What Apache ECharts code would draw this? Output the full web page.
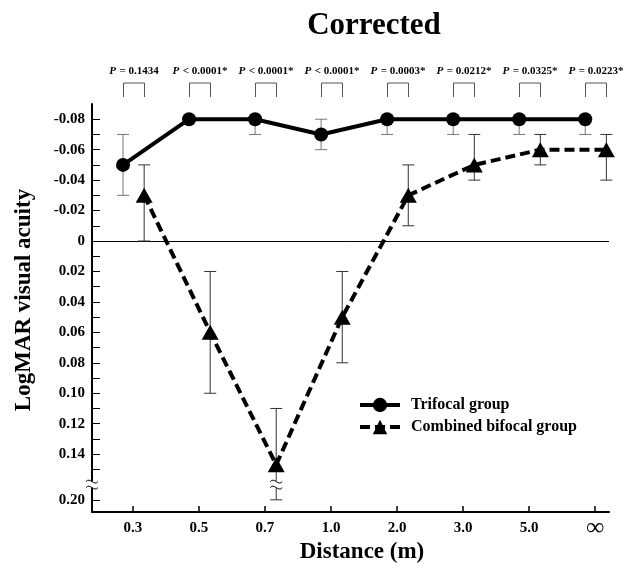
<!DOCTYPE html>
<html>
<head>
<meta charset="utf-8">
<script src="https://cdn.jsdelivr.net/npm/echarts@6/dist/echarts.min.js"></script>
<style>html,body{margin:0;padding:0;background:#fff}#c{width:623px;height:569px}</style>
</head>
<body>
<div id="c"></div>
<script>
const categories = ['0.3', '0.5', '0.7', '1.0', '2.0', '3.0', '5.0', '\u221e'];
const trifocal = [-0.05, -0.08, -0.08, -0.07, -0.08, -0.08, -0.08, -0.08];
const trifocalErrTop = [-0.07, -0.08, -0.08, -0.08, -0.08, -0.08, -0.08, -0.08];
const trifocalErrBottom = [-0.03, -0.08, -0.07, -0.06, -0.07, -0.07, -0.07, -0.07];
const combined = [-0.03, 0.06, 0.147, 0.05, -0.03, -0.05, -0.06, -0.06];
const combinedErrTop = [-0.05, 0.02, 0.11, 0.02, -0.05, -0.07, -0.07, -0.07];
const combinedErrBottom = [0.00, 0.10, 0.20, 0.08, -0.01, -0.04, -0.05, -0.04];
const pValues = ['= 0.1434', '< 0.0001*', '< 0.0001*', '< 0.0001*', '= 0.0003*', '= 0.0212*', '= 0.0325*', '= 0.0223*'];
const yTickLabels = ['-0.08', '-0.06', '-0.04', '-0.02', '0', '0.02', '0.04', '0.06', '0.08', '0.10', '0.12', '0.14', '0.20'];

const FONT = '"Liberation Serif", "Times New Roman", serif';
// broken axis: values above the break are shifted up by 0.03
const BREAK_AT = 0.16, BREAK_SHIFT = 0.03;
const toAxis = v => (v > BREAK_AT ? v - BREAK_SHIFT : v);
const OFF_T = -0.15, OFF_C = 0.17;

const yLabelVals = yTickLabels.map(s => toAxis(parseFloat(s)));
const yTickVals = [];
for (let k = -8; k <= 15; k++) yTickVals.push(k / 100);
yTickVals.push(toAxis(0.20));

const triData = trifocal.map((v, i) => [i + OFF_T, toAxis(v)]);
const comData = combined.map((v, i) => [i + OFF_C, toAxis(v)]);
const triErr = trifocal.map((v, i) => [i + OFF_T, toAxis(trifocalErrTop[i]), toAxis(trifocalErrBottom[i])]);
const comErr = combined.map((v, i) => [i + OFF_C, toAxis(combinedErrTop[i]), toAxis(combinedErrBottom[i]), combinedErrBottom[i] > BREAK_AT ? 1 : 0]);

function tilde(x, y, w) {
  return {
    type: 'bezierCurve',
    shape: { x1: x - w / 2, y1: y, x2: x + w / 2, y2: y, cpx1: x - w / 6, cpy1: y - 5, cpx2: x + w / 6, cpy2: y + 5 },
    style: { stroke: '#000', lineWidth: 1, fill: null }
  };
}
function breakMark(cx, cy) {
  return [
    { type: 'rect', shape: { x: cx - 7, y: cy - 3, width: 14, height: 6 }, style: { fill: '#fff' } },
    tilde(cx, cy - 3, 12),
    tilde(cx, cy + 3, 12)
  ];
}

function errRender(color) {
  return function (params, api) {
    const x = api.value(0), a = api.value(1), b = api.value(2);
    if (Math.abs(a - b) < 1e-9) return null;
    const p1 = api.coord([x, a]), p2 = api.coord([x, b]);
    const hw = 6;
    const st = { stroke: color, lineWidth: 1 };
    const children = [
      { type: 'line', shape: { x1: p1[0], y1: p1[1], x2: p2[0], y2: p2[1] }, style: st },
      { type: 'line', shape: { x1: p1[0] - hw, y1: p1[1], x2: p1[0] + hw, y2: p1[1] }, style: st },
      { type: 'line', shape: { x1: p2[0] - hw, y1: p2[1], x2: p2[0] + hw, y2: p2[1] }, style: st }
    ];
    if (api.value(3) === 1) {
      const pb = api.coord([x, BREAK_AT]);
      breakMark(pb[0], pb[1]).forEach(c => children.push(c));
    }
    return { type: 'group', children };
  };
}

const chart = echarts.init(document.getElementById('c'), null, { renderer: 'canvas' });
chart.setOption({
  backgroundColor: '#fff',
  animation: false,
  grid: { left: 92, top: 104, right: 14, bottom: 57, containLabel: false, outerBoundsMode: 'none' },
  xAxis: {
    type: 'value', min: -0.62, max: 7.21,
    axisLine: { show: true, onZero: false, lineStyle: { color: '#000', width: 2 } },
    axisTick: { show: true, inside: true, length: 6, customValues: categories.map((c, i) => i), lineStyle: { color: '#000', width: 1.5 } },
    axisLabel: {
      customValues: categories.map((c, i) => i), margin: 9,
      formatter: v => {
        const s = categories[Math.round(v)];
        return s === '\u221e' ? '{inf|' + s + '}' : s;
      },
      fontFamily: FONT, fontWeight: 'bold', fontSize: 15, color: '#000',
      rich: { inf: { fontFamily: FONT, fontSize: 25, lineHeight: 15, color: '#000' } }
    },
    splitLine: { show: false }
  },
  yAxis: {
    type: 'value', inverse: true, min: -0.09, max: 0.178,
    axisLine: { show: true, onZero: false, lineStyle: { color: '#000', width: 2 } },
    axisTick: { show: true, inside: true, length: 8, customValues: yTickVals, lineStyle: { color: '#000', width: 1 } },
    axisLabel: {
      customValues: yLabelVals, margin: 7,
      formatter: v => {
        for (let k = 0; k < yLabelVals.length; k++) if (Math.abs(yLabelVals[k] - v) < 1e-6) return yTickLabels[k];
        return '';
      },
      fontFamily: FONT, fontWeight: 'bold', fontSize: 15, color: '#000'
    },
    splitLine: { show: false }
  },
  legend: {
    orient: 'vertical', left: 353, top: 392, itemWidth: 40, itemHeight: 18, itemGap: 6,
    lineStyle: { width: 4 },
    textStyle: { fontFamily: FONT, fontWeight: 'bold', fontSize: 16, color: '#000', padding: [0, 0, 0, 6] },
    data: ['Trifocal group', 'Combined bifocal group']
  },
  graphic: [
    { type: 'text', x: 374, y: 26, style: { text: 'Corrected', font: 'bold 31px ' + FONT, fill: '#000', align: 'center', verticalAlign: 'middle' } },
    { type: 'text', x: 24, y: 300, rotation: Math.PI / 2, style: { text: 'LogMAR visual acuity', font: 'bold 23px ' + FONT, fill: '#000', align: 'center', verticalAlign: 'middle' } },
    { type: 'text', x: 362, y: 552, style: { text: 'Distance (m)', font: 'bold 23px ' + FONT, fill: '#000', align: 'center', verticalAlign: 'middle' } }
  ],
  series: [
    {
      type: 'custom', name: 'zero', silent: true, z: 1, clip: false,
      data: [[0]],
      renderItem: (params, api) => {
        const cs = params.coordSys;
        const y = Math.round(api.coord([0, 0])[1]) + 0.5;
        const pb = api.coord([0, BREAK_AT])[1];
        return {
          type: 'group', children: [
            { type: 'line', shape: { x1: cs.x, y1: y, x2: cs.x + cs.width, y2: y }, style: { stroke: '#000', lineWidth: 1 } }
          ].concat(breakMark(cs.x, pb))
        };
      }
    },
    {
      type: 'custom', name: 'brackets', silent: true, clip: false, z: 2,
      data: categories.map((c, i) => [i]),
      renderItem: (params, api) => {
        const i = api.value(0);
        const top = params.coordSys.y;
        const x1 = Math.round(api.coord([i + OFF_T, 0])[0]) + 0.5;
        const x2 = Math.round(api.coord([i + OFF_C, 0])[0]) + 0.5;
        return {
          type: 'group', children: [
            { type: 'polyline', shape: { points: [[x1, top - 7], [x1, top - 21], [x2, top - 21], [x2, top - 7]] }, style: { stroke: '#555', lineWidth: 1, fill: null } },
            {
              type: 'text', x: (x1 + x2) / 2, y: top - 33,
              style: {
                text: '{i|P} {b|' + pValues[i] + '}', align: 'center', verticalAlign: 'middle',
                rich: {
                  i: { font: 'bold italic 11px ' + FONT, fill: '#000' },
                  b: { font: 'bold 11px ' + FONT, fill: '#000' }
                }
              }
            }
          ]
        };
      }
    },
    { type: 'custom', name: 'triErr', silent: true, z: 2, clip: false, data: triErr, renderItem: errRender('#777') },
    { type: 'custom', name: 'comErr', silent: true, z: 2, clip: false, data: comErr, renderItem: errRender('#333') },
    {
      type: 'line', name: 'Trifocal group', data: triData, z: 5,
      symbol: 'circle', symbolSize: 14, showSymbol: true,
      lineStyle: { color: '#000', width: 4 }, itemStyle: { color: '#000' }
    },
    {
      type: 'line', name: 'Combined bifocal group', data: comData, z: 5,
      symbol: 'triangle', symbolSize: [17, 15], showSymbol: true,
      lineStyle: { color: '#000', width: 4, type: [10, 5] }, itemStyle: { color: '#000' }
    }
  ]
});
</script>
</body>
</html>
